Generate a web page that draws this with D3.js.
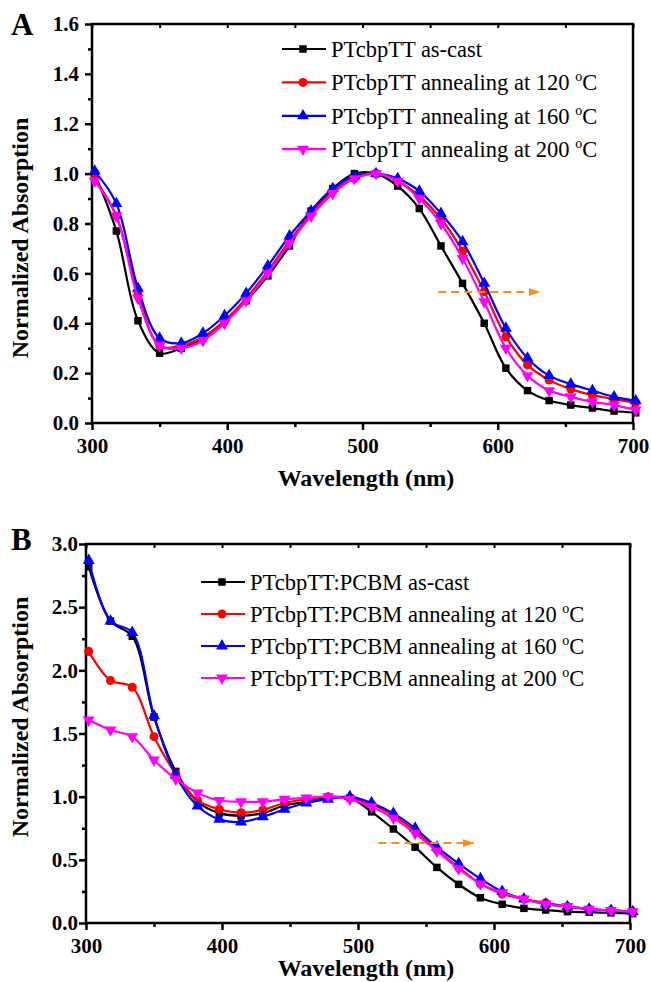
<!DOCTYPE html>
<html>
<head>
<meta charset="utf-8">
<script src="https://cdn.jsdelivr.net/npm/d3@7"></script>
<style>
body { margin: 0; background: #fff; }
svg { display: block; }
text { font-family: "Liberation Serif", "Times New Roman", serif; }
</style>
</head>
<body>
<div id="chart"></div>
<script>
"use strict"

// wavelengths where the markers sit (nm)
var wavelengths = [302, 318, 334, 350, 366, 382, 398, 414, 430, 446, 462, 478, 494,
                   510, 526, 542, 558, 574, 590, 606, 622, 638, 654, 670, 686, 702];

// panel A: neat polymer film
var namesA = ['PTcbpTT as-cast', 'PTcbpTT annealing at 120', 'PTcbpTT annealing at 160', 'PTcbpTT annealing at 200'];
var absA_cast = [1.00, 0.77, 0.41, 0.28, 0.30, 0.34, 0.41, 0.49, 0.59, 0.71, 0.85, 0.94, 1.00,
                 1.00, 0.95, 0.86, 0.71, 0.56, 0.40, 0.22, 0.13, 0.09, 0.072, 0.06, 0.048, 0.041];
var absA_120 = [0.98, 0.83, 0.52, 0.31, 0.31, 0.345, 0.41, 0.50, 0.61, 0.73, 0.84, 0.93, 0.98,
                1.00, 0.97, 0.91, 0.82, 0.69, 0.527, 0.346, 0.233, 0.172, 0.136, 0.112, 0.096, 0.081];
var absA_160 = [1.01, 0.88, 0.54, 0.34, 0.32, 0.36, 0.43, 0.52, 0.63, 0.75, 0.85, 0.94, 0.99,
                1.00, 0.98, 0.93, 0.84, 0.727, 0.56, 0.38, 0.26, 0.19, 0.156, 0.13, 0.105, 0.089];
var absA_200 = [0.97, 0.83, 0.50, 0.31, 0.30, 0.33, 0.40, 0.49, 0.60, 0.72, 0.83, 0.92, 0.98,
                1.00, 0.97, 0.90, 0.80, 0.66, 0.486, 0.30, 0.19, 0.13, 0.105, 0.085, 0.072, 0.052];

// panel B: blend with PCBM
var namesB = ['PTcbpTT:PCBM as-cast', 'PTcbpTT:PCBM annealing at 120', 'PTcbpTT:PCBM annealing at 160', 'PTcbpTT:PCBM annealing at 200'];
var absB_cast = [2.82, 2.39, 2.27, 1.63, 1.20, 0.96, 0.87, 0.85, 0.87, 0.93, 0.96, 0.99, 0.99,
                 0.88, 0.744, 0.60, 0.44, 0.306, 0.20, 0.148, 0.116, 0.103, 0.09, 0.085, 0.08, 0.075];
var absB_120 = [2.15, 1.92, 1.866, 1.475, 1.18, 0.97, 0.90, 0.873, 0.895, 0.95, 0.98, 1.00, 0.99,
                0.94, 0.85, 0.73, 0.58, 0.44, 0.31, 0.23, 0.19, 0.16, 0.13, 0.11, 0.10, 0.09];
var absB_160 = [2.87, 2.39, 2.30, 1.64, 1.17, 0.926, 0.82, 0.80, 0.84, 0.90, 0.95, 0.98, 1.00,
                0.95, 0.868, 0.75, 0.60, 0.47, 0.35, 0.25, 0.19, 0.15, 0.13, 0.11, 0.10, 0.09];
var absB_200 = [1.607, 1.528, 1.475, 1.29, 1.14, 1.03, 0.97, 0.96, 0.96, 0.98, 0.99, 1.00, 0.98,
                0.92, 0.83, 0.71, 0.57, 0.43, 0.31, 0.24, 0.19, 0.15, 0.13, 0.11, 0.10, 0.09];

// ticks
var xTicks = [300, 400, 500, 600, 700];
var xMinor = [350, 450, 550, 650];
var yTicksA = [0.0, 0.2, 0.4, 0.6, 0.8, 1.0, 1.2, 1.4, 1.6];
var yMinorA = [0.1, 0.3, 0.5, 0.7, 0.9, 1.1, 1.3, 1.5];
var yTicksB = [0.0, 0.5, 1.0, 1.5, 2.0, 2.5, 3.0];
var yMinorB = [0.25, 0.75, 1.25, 1.75, 2.25, 2.75];

// orange "red shift" arrows [x0, x1, y]
var arrowA = [556, 631, 0.525];
var arrowB = [515, 585, 0.633];

var colors = ['#000000', '#ff0000', '#0000ff', '#ff00ff'];
var symbols = ['square', 'circle', 'up', 'down'];

var svg = d3.select("#chart")
    .append("svg")
    .attr("width", 651)
    .attr("height", 982);

svg.append("defs").append("marker")
    .attr("id", "arrowhead")
    .attr("viewBox", "0 0 12 8")
    .attr("refX", 11)
    .attr("refY", 4)
    .attr("markerWidth", 12)
    .attr("markerHeight", 8)
    .attr("markerUnits", "userSpaceOnUse")
    .attr("orient", "auto")
    .append("path")
    .attr("d", "M0,0 L12,4 L0,8 Z")
    .attr("fill", "#ff8c1a");

function markerPath(kind) {
    if (kind == 'square') return d3.symbol(d3.symbolSquare, 56)();
    if (kind == 'circle') return d3.symbol(d3.symbolCircle, 64)();
    return d3.symbol(d3.symbolTriangle, 62)();
}

function drawPanel(p) {
    var g = svg.append("g");
    var x = d3.scaleLinear().domain([300, 700]).range([p.left, p.right]);
    var y = d3.scaleLinear().domain([0, p.ymax]).range([p.bottom, p.top]);

    // bottom axis, major + minor
    g.append("g")
        .attr("transform", "translate(0," + p.bottom + ")")
        .call(d3.axisBottom(x).tickValues(xTicks).tickSize(7).tickPadding(8).tickFormat(d3.format("d")))
        .call(a => a.select(".domain").remove())
        .call(a => a.selectAll("line").attr("stroke-width", 2.5))
        .call(a => a.selectAll("text").style("font-size", "21px").style("font-weight", "bold")
            .attr("fill", "#000").style("font-family", "Liberation Serif"));
    g.append("g")
        .attr("transform", "translate(0," + p.bottom + ")")
        .call(d3.axisBottom(x).tickValues(xMinor).tickSize(4).tickFormat(""))
        .call(a => a.select(".domain").remove())
        .call(a => a.selectAll("line").attr("stroke-width", 2.5));

    // top axis, ticks pointing in
    g.append("g")
        .attr("transform", "translate(0," + p.top + ")")
        .call(d3.axisTop(x).tickValues(xTicks.concat(xMinor)).tickSize(-4).tickFormat(""))
        .call(a => a.select(".domain").remove())
        .call(a => a.selectAll("line").attr("stroke-width", 2));

    // left axis
    g.append("g")
        .attr("transform", "translate(" + p.left + ",0)")
        .call(d3.axisLeft(y).tickValues(p.yTicks).tickSize(7).tickPadding(p.tickPad).tickFormat(d3.format(".1f")))
        .call(a => a.select(".domain").remove())
        .call(a => a.selectAll("line").attr("stroke-width", 2.5))
        .call(a => a.selectAll("text").style("font-size", "21px").style("font-weight", "bold")
            .attr("fill", "#000").style("font-family", "Liberation Serif"));
    g.append("g")
        .attr("transform", "translate(" + p.left + ",0)")
        .call(d3.axisLeft(y).tickValues(p.yMinor).tickSize(4).tickFormat(""))
        .call(a => a.select(".domain").remove())
        .call(a => a.selectAll("line").attr("stroke-width", 2.5));

    // frame
    g.append("rect")
        .attr("x", p.left)
        .attr("y", p.top)
        .attr("width", p.right - p.left)
        .attr("height", p.bottom - p.top)
        .attr("fill", "none")
        .attr("stroke", "#000")
        .attr("stroke-width", 2.5);

    // curves
    var line = d3.line()
        .x(function(d, i) { return x(wavelengths[i]); })
        .y(function(d) { return y(d); })
        .curve(d3.curveCatmullRom);
    var plot = g.append("g");
    p.series.forEach(function(s, k) {
        plot.append("path")
            .attr("d", line(s))
            .attr("fill", "none")
            .attr("stroke", colors[k])
            .attr("stroke-width", 2.2);
        plot.selectAll(null)
            .data(s)
            .enter()
            .append("path")
            .attr("d", markerPath(symbols[k]))
            .attr("transform", function(d, i) {
                return "translate(" + x(wavelengths[i]) + "," + y(d) + ")" + (symbols[k] == 'down' ? " rotate(180)" : "");
            })
            .attr("fill", colors[k]);
    });

    // arrow
    g.append("line")
        .attr("x1", x(p.arrow[0]))
        .attr("x2", x(p.arrow[1]))
        .attr("y1", y(p.arrow[2]))
        .attr("y2", y(p.arrow[2]))
        .attr("stroke", "#ff8c1a")
        .attr("stroke-width", 2)
        .attr("stroke-dasharray", "8,5")
        .attr("marker-end", "url(#arrowhead)");

    // legend
    var leg = g.append("g");
    p.names.forEach(function(n, k) {
        var ly = p.legY + k * p.legStep;
        leg.append("line")
            .attr("x1", p.legX)
            .attr("x2", p.legX + 44)
            .attr("y1", ly)
            .attr("y2", ly)
            .attr("stroke", colors[k])
            .attr("stroke-width", 2.2);
        leg.append("path")
            .attr("d", markerPath(symbols[k]))
            .attr("transform", "translate(" + (p.legX + 21) + "," + ly + ")" + (symbols[k] == 'down' ? " rotate(180)" : ""))
            .attr("fill", colors[k]);
        var t = leg.append("text")
            .attr("x", p.legX + 49)
            .attr("y", ly + 8)
            .style("font-size", "22.5px")
            .text(n);
        if (k > 0) {
            t.append("tspan").text(" ");
            t.append("tspan").attr("dy", -9).style("font-size", "14px").text("o");
            t.append("tspan").attr("dy", 9).text("C");
        }
    });

    // titles
    g.append("text")
        .attr("x", 366)
        .attr("y", p.xTitleY)
        .attr("text-anchor", "middle")
        .style("font-size", "24px")
        .style("font-weight", "bold")
        .text("Wavelength (nm)");
    g.append("text")
        .attr("transform", "translate(28," + p.yTitleY + ") rotate(-90)")
        .attr("text-anchor", "middle")
        .style("font-size", "24px")
        .style("font-weight", "bold")
        .text("Normalized Absorption");
    g.append("text")
        .attr("x", 11)
        .attr("y", p.letterY)
        .style("font-size", "31px")
        .style("font-weight", "bold")
        .text(p.letter);
}

drawPanel({
    left: 92, right: 633, top: 24, bottom: 423, ymax: 1.6,
    yTicks: yTicksA, yMinor: yMinorA, tickPad: 6,
    series: [absA_cast, absA_120, absA_160, absA_200],
    names: namesA, legX: 282, legY: 49, legStep: 33.4,
    arrow: arrowA, xTitleY: 486, yTitleY: 238, letter: "A", letterY: 35
});

drawPanel({
    left: 86, right: 630, top: 544, bottom: 923, ymax: 3.0,
    yTicks: yTicksB, yMinor: yMinorB, tickPad: 1,
    series: [absB_cast, absB_120, absB_160, absB_200],
    names: namesB, legX: 201, legY: 582, legStep: 32,
    arrow: arrowB, xTitleY: 976, yTitleY: 717, letter: "B", letterY: 550
});
</script>
</body>
</html>
